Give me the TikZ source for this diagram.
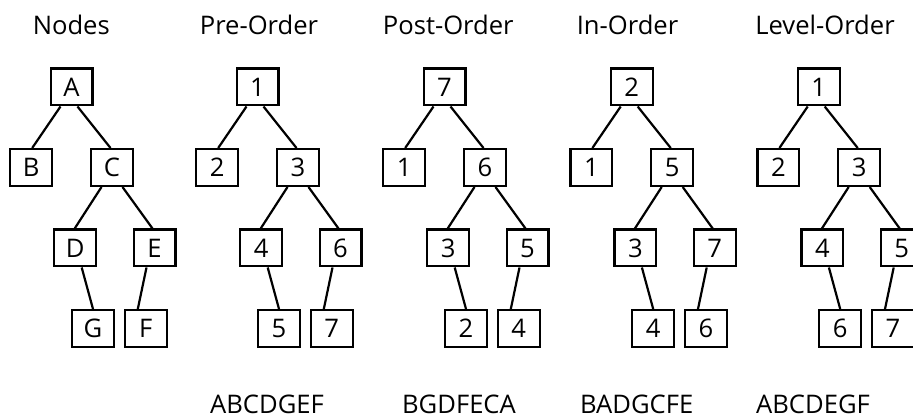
\documentclass[tikz,border=0pt]{standalone}
\usepackage{fontspec}
\setmainfont{Open Sans}
\usepackage{tikz}

\begin{document}
\begin{tikzpicture}[x = 1pt, y = 1pt, font = \fontsize{25.6}{30}\selectfont,
		box/.style = {draw, line width = 2.2pt, minimum width = 41.8pt, minimum height = 36.8pt, inner sep = 0pt},
		link/.style = {line width = 2.2pt}]
	\useasboundingbox (0, 0) rectangle (913, 418);
	% one tree per column, root at \x
	\foreach \i/\x/\tx/\title/\ta/\tb/\tc/\td/\te/\tf/\tg in {
			1/71.5/71.3/Nodes/A/B/C/D/E/G/F,
			2/257.5/259/Pre-Order/1/2/3/4/6/5/7,
			3/444.5/448.3/Post-Order/7/1/6/3/5/2/4,
			4/631.7/627.5/In-Order/2/1/5/3/7/4/6,
			5/818.7/825/Level-Order/1/2/3/4/5/6/7}{
		\node[anchor = base] (title\i) at (\tx, 383) {\title};
		\node[box] (t\i) at (\x, 331) {\ta};
		\node[box] (l\i) at (\x - 40.3, 250.5) {\tb};
		\node[box] (r\i) at (\x + 40.5, 250.5) {\tc};
		\node[box] (rl\i) at (\x + 3.7, 170) {\td};
		\node[box] (rr\i) at (\x + 83, 170) {\te};
		\node[box] (rlr\i) at (\x + 21.5, 89.5) {\tf};
		\node[box] (rrl\i) at (\x + 74.3, 89.5) {\tg};
		\draw[link] ([xshift = -11pt]t\i.south) -- ([xshift = 1pt]l\i.north);
		\draw[link] ([xshift = 6pt]t\i.south) -- ([xshift = -1.5pt]r\i.north);
		\draw[link] ([xshift = -10.5pt]r\i.south) -- ([xshift = -0.5pt]rl\i.north);
		\draw[link] ([xshift = 10.5pt]r\i.south) -- ([xshift = -2pt]rr\i.north);
		\draw[link] ([xshift = 6.5pt]rl\i.south) -- (rlr\i.north);
		\draw[link] ([xshift = -8pt]rr\i.south) -- ([xshift = -8pt]rrl\i.north);
	}
	% visiting order under each tree
	\foreach \i/\x/\seq in {2/267/ABCDGEF, 3/459/BGDFECA, 4/636.7/BADGCFE, 5/813/ABCDEGF}
		\node[anchor = base] (seq\i) at (\x, 4.7) {\seq};
\end{tikzpicture}
\end{document}
